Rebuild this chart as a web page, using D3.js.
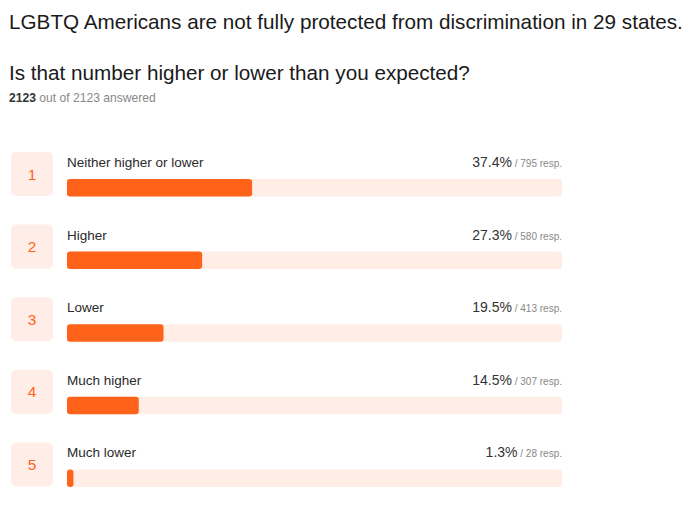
<!DOCTYPE html>
<html><head><meta charset="utf-8">
<script src="https://cdn.jsdelivr.net/npm/d3@7"></script>
<style>body{margin:0;background:#fff;} svg{display:block;font-family:"Liberation Sans",Arial,sans-serif;}</style>
</head><body>
<svg id="chart" width="690" height="509"></svg>
<script>
const title = "LGBTQ Americans are not fully protected from discrimination in 29 states.";
const question = "Is that number higher or lower than you expected?";
const answered = 2123, total = 2123;
const categories = ["Neither higher or lower", "Higher", "Lower", "Much higher", "Much lower"];
const percents = [37.4, 27.3, 19.5, 14.5, 1.3];
const responses = [795, 580, 413, 307, 28];

const svg = d3.select("#chart");
const orange = "#ff6319", track = "#ffede6", boxFill = "#ffeee8";

function fit(sel, w) {
  const len = sel.node().getComputedTextLength();
  const fs = parseFloat(sel.attr("font-size"));
  sel.attr("font-size", fs * w / len);
}
fit(svg.append("text").attr("x", 9).attr("y", 29).attr("font-size", 20).attr("fill", "#1a1a1a").text(title), 674);
fit(svg.append("text").attr("x", 9).attr("y", 80).attr("font-size", 20).attr("fill", "#1a1a1a").text(question), 461);
const ans = svg.append("text").attr("x", 9).attr("y", 102).attr("font-size", 11.5);
ans.append("tspan").attr("fill", "#333").attr("font-weight", "bold").text(answered);
ans.append("tspan").attr("fill", "#888").text(` out of ${total} answered`);
fit(ans, 147);

const x = d3.scaleLinear().domain([0, 100]).range([67, 562]);
const y = d3.scaleBand().domain(categories).range([152, 515]).paddingInner(0);

const rows = svg.selectAll("g.row").data(categories).join("g").attr("class", "row")
  .attr("transform", d => `translate(0,${y(d)})`);

rows.append("rect").attr("x", 11).attr("y", 0).attr("width", 42).attr("height", 44).attr("rx", 5).attr("fill", boxFill);
rows.append("text").attr("x", 32).attr("y", 27.5).attr("text-anchor", "middle").attr("font-size", 15.5)
  .attr("fill", orange).text((d, i) => i + 1);
rows.append("text").attr("x", 67).attr("y", 15).attr("font-size", 13.5).attr("fill", "#2a2a2a").text(d => d);
rows.append("rect").attr("x", x(0)).attr("y", 27).attr("width", x(100) - x(0)).attr("height", 17.5).attr("rx", 3).attr("fill", track);
rows.append("rect").attr("x", x(0)).attr("y", 27).attr("width", (d, i) => Math.max(x(percents[i]) - x(0), 6))
  .attr("height", 17.5).attr("rx", 3).attr("fill", orange);
const pt = rows.append("text").attr("x", x(100)).attr("y", 15).attr("text-anchor", "end");
pt.append("tspan").attr("font-size", 14).attr("fill", "#333").text((d, i) => percents[i].toFixed(1) + "%");
pt.append("tspan").attr("font-size", 10).attr("fill", "#888").text((d, i) => ` / ${responses[i]} resp.`);
</script>
</body></html>
